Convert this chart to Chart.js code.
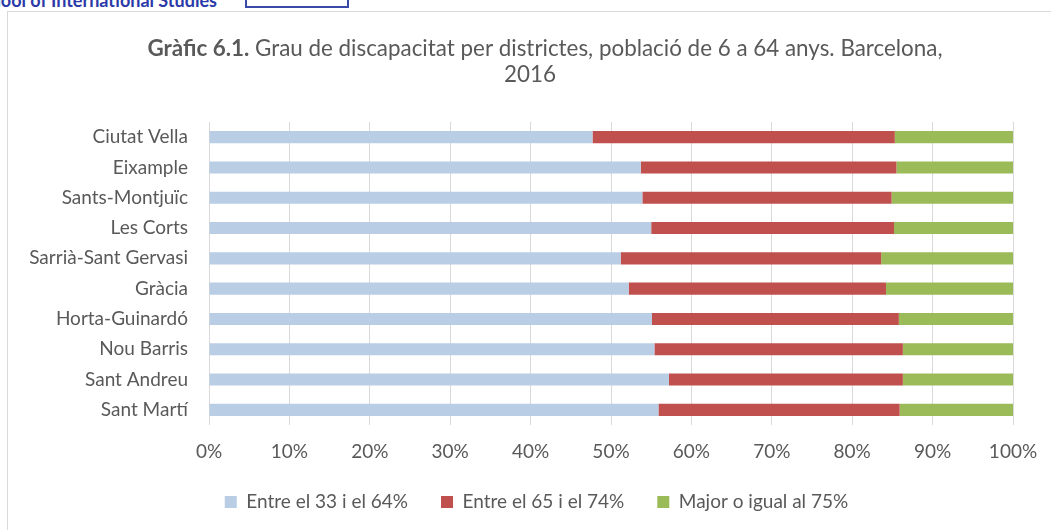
<!DOCTYPE html>
<html>
<head>
<meta charset="utf-8">
<script src="https://cdn.jsdelivr.net/npm/chart.js@4.4.1/dist/chart.umd.min.js"></script>
<style>
  html, body { margin: 0; padding: 0; background: #fff; overflow: hidden; }
  #page { position: relative; width: 1051px; height: 530px; overflow: hidden; }
  #frame { position: absolute; left: 7px; top: 11px; width: 1100px; height: 600px; border: 1px solid #d9d9d9; }
  #header { position: absolute; right: 834px; top: -9px; font: bold 18px/18px Lato, sans-serif; color: #2b3aa8; white-space: nowrap; }
  #logo { position: absolute; left: 245px; top: -20px; width: 100px; height: 24px; border: 2px solid #3a4aa8; }
  #wrap { position: absolute; left: 0; top: 0; width: 1051px; height: 530px; }
</style>
</head>
<body>
<div id="page">
  <div id="header">School of International Studies</div>
  <div id="logo"></div>
  <div id="frame"></div>
  <div id="wrap"><canvas id="chart"></canvas></div>
</div>
<script>
// Gràfic 6.1 — grau de discapacitat per districtes (6 a 64 anys), Barcelona 2016
const districts = ['Ciutat Vella', 'Eixample', 'Sants-Montjuïc', 'Les Corts', 'Sarrià-Sant Gervasi',
                   'Gràcia', 'Horta-Guinardó', 'Nou Barris', 'Sant Andreu', 'Sant Martí'];
const grau33a64 = [47.7, 53.7, 53.9, 55.0, 51.2, 52.2, 55.1, 55.4, 57.2, 55.9];
const grau65a74 = [37.6, 31.8, 31.0, 30.2, 32.4, 32.0, 30.7, 30.9, 29.1, 30.0];
const grau75    = [14.7, 14.5, 15.1, 14.8, 16.4, 15.8, 14.2, 13.7, 13.7, 14.1];
const seriesNames = ['Entre el 33 i el 64%', 'Entre el 65 i el 74%', 'Major o igual al 75%'];
const xTicks = [0, 10, 20, 30, 40, 50, 60, 70, 80, 90, 100];

const TEXT = '#595959';
const FONT = 'Lato, "Open Sans", sans-serif';
const LBL = 19;      // axis / legend font size
const LEG_PAD = 33;  // gap between legend items
const TITLE_PX = 22.4;

// title with a bold prefix, drawn by hand since Chart.js titles use one font
const titlePlugin = {
    id: 'mixedTitle',
    afterDraw(chart) {
        const ctx = chart.ctx;
        const bold = 'Gràfic 6.1.';
        const rest = ' Grau de discapacitat per districtes, població de 6 a 64 anys. Barcelona,';
        ctx.save();
        ctx.fillStyle = TEXT;
        ctx.textBaseline = 'alphabetic';
        ctx.font = 'bold ' + TITLE_PX + 'px ' + FONT;
        const wb = ctx.measureText(bold).width;
        ctx.font = TITLE_PX + 'px ' + FONT;
        const wr = ctx.measureText(rest).width;
        const x0 = 545 - (wb + wr) / 2;
        ctx.textAlign = 'left';
        ctx.font = 'bold ' + TITLE_PX + 'px ' + FONT;
        ctx.fillText(bold, x0, 56);
        ctx.font = TITLE_PX + 'px ' + FONT;
        ctx.fillText(rest, x0 + wb, 56);
        ctx.textAlign = 'center';
        ctx.fillText('2016', 530, 82);
        ctx.restore();
    }
};

// legend sits a bit right of centre and higher than Chart.js would put it
const legendShift = {
    id: 'legendShift',
    afterLayout(chart) {
        const lg = chart.legend;
        lg.left += 30;
        lg.right += 30;
        lg.top = 502 - LEG_PAD - LBL / 2;
    }
};

const ctx = document.getElementById('chart');
new Chart(ctx, {
    type: 'bar',
    data: {
        labels: districts,
        datasets: [
            { label: seriesNames[0], data: grau33a64, backgroundColor: '#b9cde5' },
            { label: seriesNames[1], data: grau65a74, backgroundColor: '#c0504d' },
            { label: seriesNames[2], data: grau75,    backgroundColor: '#9bbb59' }
        ]
    },
    options: {
        indexAxis: 'y',
        responsive: true,
        maintainAspectRatio: false,
        animation: false,
        datasets: { bar: { barPercentage: 0.4, categoryPercentage: 1, borderWidth: 0 } },
        layout: { padding: { top: 122, left: 0, right: 38, bottom: -17 } },
        plugins: {
            title: { display: false },
            tooltip: { enabled: false },
            legend: {
                position: 'bottom',
                labels: { color: TEXT, boxWidth: 12, boxHeight: 12, padding: LEG_PAD, font: { family: FONT, size: LBL } }
            }
        },
        scales: {
            x: {
                stacked: true,
                min: 0,
                max: 100,
                afterBuildTicks: s => { s.ticks = xTicks.map(v => ({ value: v })); },
                afterFit: s => { s.height = 60; s.paddingLeft = 0; s.paddingRight = 0; },
                grid: { color: '#d9d9d9', drawTicks: false },
                border: { display: false },
                ticks: { color: TEXT, padding: 15, font: { family: FONT, size: LBL }, callback: v => v + '%' }
            },
            y: {
                stacked: true,
                afterFit: s => { s.width = 209; },
                grid: { display: false, drawTicks: false },
                border: { display: false },
                ticks: { color: TEXT, padding: 21, font: { family: FONT, size: LBL } }
            }
        }
    },
    plugins: [titlePlugin, legendShift]
});
</script>
</body>
</html>
